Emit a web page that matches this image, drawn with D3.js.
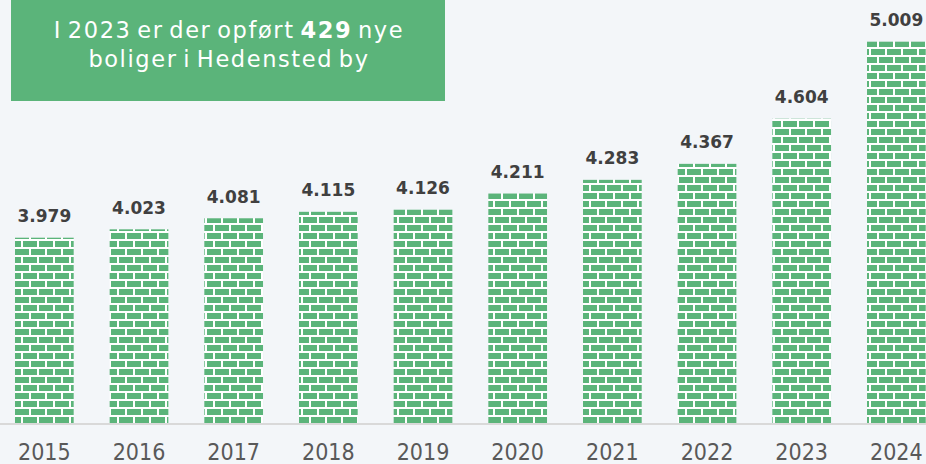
<!DOCTYPE html>
<html>
<head>
<meta charset="utf-8">
<script src="https://cdn.jsdelivr.net/npm/d3@7"></script>
<style>
  body { margin: 0; background: #f3f6f9; }
  svg { display: block; }
</style>
</head>
<body>
<div id="chart"></div>
<script>
/// Data ///
var years = ["2015", "2016", "2017", "2018", "2019", "2020", "2021", "2022", "2023", "2024"];
var homes = [3979, 4023, 4081, 4115, 4126, 4211, 4283, 4367, 4604, 5009];
var valueLabels = ["3.979", "4.023", "4.081", "4.115", "4.126", "4.211", "4.283", "4.367", "4.604", "5.009"];
var titleLine1 = ["I 2023 er der opført ", "429", " nye"];
var titleLine2 = "boliger i Hedensted by";

/// Sizes ///
var svgWidth = 926;
var svgHeight = 464;
var baseY = 424;
var green = "#5bb47a";
var font = "'DejaVu Sans Condensed', 'DejaVu Sans', sans-serif";
var wideFont = "'DejaVu Sans', Verdana, sans-serif";

var svg = d3.select("#chart")
    .append("svg")
    .attr("width", svgWidth)
    .attr("height", svgHeight);

// brick pattern, aligned to the page
var defs = svg.append("defs");
var pat = defs.append("pattern")
    .attr("id", "bricks")
    .attr("patternUnits", "userSpaceOnUse")
    .attr("x", 7).attr("y", 1)
    .attr("width", 16).attr("height", 16);
pat.append("rect").attr("width", 16).attr("height", 16).attr("fill", "#fff");
pat.append("rect").attr("x", 0).attr("y", 0).attr("width", 14).attr("height", 6).attr("fill", green);
pat.append("rect").attr("x", 8).attr("y", 8).attr("width", 14).attr("height", 6).attr("fill", green);
pat.append("rect").attr("x", -8).attr("y", 8).attr("width", 14).attr("height", 6).attr("fill", green);

/// Scales ///
var x = d3.scaleBand()
    .domain(years)
    .range([-3, 943.7])
    .paddingInner(0.38)
    .paddingOuter(0.19);

var y = d3.scaleLinear()
    .domain([3000, 5228])
    .range([baseY, 0]);

// bars
svg.append("g").selectAll("rect")
    .data(homes)
    .enter()
    .append("rect")
    .attr("x", (d, i) => x(years[i]))
    .attr("y", d => y(d))
    .attr("width", x.bandwidth())
    .attr("height", d => baseY - y(d))
    .attr("fill", "url(#bricks)");

// baseline
svg.append("line")
    .attr("x1", 0).attr("x2", svgWidth)
    .attr("y1", baseY).attr("y2", baseY)
    .attr("stroke", "#d9d9d9")
    .attr("stroke-width", 2);

// value labels
svg.append("g").selectAll("text")
    .data(homes)
    .enter()
    .append("text")
    .attr("x", (d, i) => x(years[i]) + x.bandwidth() / 2)
    .attr("y", d => y(d) - 15.5)
    .attr("text-anchor", "middle")
    .attr("font-family", wideFont)
    .attr("font-weight", "bold")
    .attr("font-size", 17)
    .attr("fill", "#404040")
    .text((d, i) => valueLabels[i]);

// x axis
var xAxis = d3.axisBottom(x).tickSize(0).tickPadding(0);
var axisG = svg.append("g")
    .attr("transform", `translate(0, ${baseY})`)
    .call(xAxis);
axisG.select(".domain").remove();
axisG.selectAll("text")
    .attr("dy", null)
    .attr("y", 36)
    .attr("font-family", font)
    .attr("font-size", 23)
    .attr("fill", "#595959");

// title box
svg.append("rect")
    .attr("x", 11).attr("y", 0)
    .attr("width", 434).attr("height", 101)
    .attr("fill", green);

var t1 = svg.append("text")
    .attr("x", 229).attr("y", 38)
    .attr("text-anchor", "middle")
    .attr("font-family", wideFont)
    .attr("font-size", 22.5)
    .attr("letter-spacing", 1.6)
    .attr("word-spacing", -3)
    .attr("fill", "#fff");
t1.selectAll("tspan")
    .data(titleLine1)
    .enter()
    .append("tspan")
    .attr("font-weight", (d, i) => i === 1 ? "bold" : "normal")
    .text(d => d);

svg.append("text")
    .attr("x", 229).attr("y", 67)
    .attr("text-anchor", "middle")
    .attr("font-family", wideFont)
    .attr("font-size", 22.5)
    .attr("letter-spacing", 1.6)
    .attr("word-spacing", -3)
    .attr("fill", "#fff")
    .text(titleLine2);
</script>
</body>
</html>
